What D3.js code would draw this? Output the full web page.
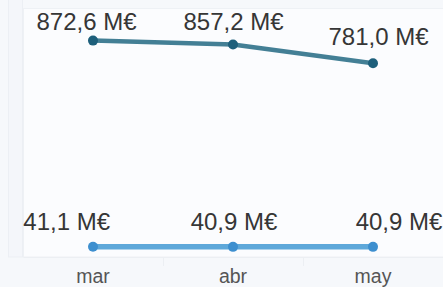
<!DOCTYPE html>
<html>
<head>
<meta charset="utf-8">
<script src="https://cdn.jsdelivr.net/npm/d3@7"></script>
<style>
  html, body { margin: 0; padding: 0; background: #f7f9fc; }
  svg { display: block; }
</style>
</head>
<body>
<svg id="chart" width="443" height="287"></svg>
<script>
const categories = ["mar", "abr", "may"];
const seriesTop = [872.6, 857.2, 781.0];
const seriesBottom = [41.1, 40.9, 40.9];
const labelsTop = ["872,6 M€", "857,2 M€", "781,0 M€"];
const labelsBottom = ["41,1 M€", "40,9 M€", "40,9 M€"];

const W = 443, H = 287;
const FONT = "Liberation Sans, Arial, sans-serif";
const svg = d3.select("#chart");

// panels
svg.append("rect").attr("x", 0).attr("y", 0).attr("width", W).attr("height", H).attr("fill", "#f6f8fb");
svg.append("rect").attr("x", 8.5).attr("y", -1).attr("width", 14).attr("height", 258)
  .attr("fill", "#f4f6fa").attr("stroke", "#eceff4");
svg.append("rect").attr("x", 23.5).attr("y", 8.5).attr("width", 440).attr("height", 248.5)
  .attr("fill", "#fbfcfe").attr("stroke", "#eef1f5");

const x = d3.scaleBand().domain(categories).range([23, 443]);
const y = d3.scaleLinear().domain([0, 1000]).range([257, 9]);
const cx = d => x(d) + x.bandwidth() / 2;

// x axis
const xAxis = svg.append("g").attr("transform", "translate(0,257)")
  .call(d3.axisBottom(x).tickSize(0).tickPadding(12));
xAxis.select(".domain").attr("stroke", "#eceff3");
xAxis.selectAll("text").attr("font-family", FONT)
  .attr("font-size", 19.5).attr("fill", "#555");
// separators
svg.selectAll(".sep").data(categories.slice(1)).enter().append("line")
  .attr("x1", d => x(d) + 0.5).attr("x2", d => x(d) + 0.5)
  .attr("y1", 257).attr("y2", 266).attr("stroke", "#eceff3");

const line = d3.line().x((d, i) => cx(categories[i])).y(d => y(d));

function drawSeries(vals, labels, lineColor, dotColor, width, nudgeX, nudgeY) {
  svg.append("path").datum(vals).attr("d", line)
    .attr("fill", "none").attr("stroke", lineColor).attr("stroke-width", width)
    .attr("stroke-linecap", "round").attr("stroke-linejoin", "round");
  svg.selectAll(null).data(vals).enter().append("circle")
    .attr("cx", (d, i) => cx(categories[i])).attr("cy", d => y(d))
    .attr("r", 5).attr("fill", dotColor);
  svg.selectAll(null).data(vals).enter().append("text")
    .attr("x", (d, i) => cx(categories[i]) + nudgeX[i])
    .attr("y", (d, i) => y(d) + nudgeY[i])
    .attr("text-anchor", "middle")
    .attr("font-family", FONT)
    .attr("font-size", 24).attr("fill", "#363636")
    .text((d, i) => labels[i]);
}

drawSeries(seriesTop, labelsTop, "#437f95", "#1d5f7b", 4.5, [-6.5, 0.5, 5.5], [-10.6, -14.4, -18.3]);
drawSeries(seriesBottom, labelsBottom, "#5ea8da", "#3d8fcf", 5.5, [-26.3, 1, 26], [-16.5, -16.5, -16.5]);
</script>
</body>
</html>
